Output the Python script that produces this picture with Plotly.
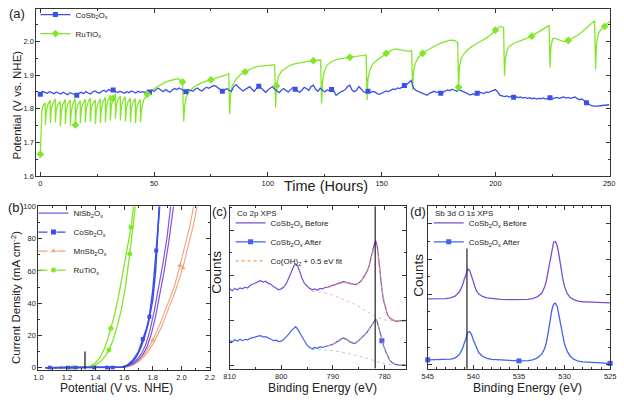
import numpy as np
import plotly.graph_objects as go

W, H = 624, 401
FONT = "Liberation Sans, Arial, sans-serif"

# ---------------- (a) long-term stability ----------------
time_co = list(range(0, 251))
volt_co = [
    1.843, 1.852, 1.849, 1.846, 1.851, 1.848, 1.845, 1.850, 1.847, 1.844,
    1.849, 1.846, 1.842, 1.848, 1.845, 1.841, 1.840, 1.846, 1.849, 1.845,
    1.851, 1.847, 1.844, 1.850, 1.853, 1.849, 1.846, 1.852, 1.855, 1.850,
    1.857, 1.854, 1.856, 1.851, 1.848, 1.852, 1.849, 1.846, 1.851, 1.848,
    1.853, 1.850, 1.847, 1.852, 1.849, 1.851, 1.848, 1.853, 1.850, 1.855,
    1.852, 1.858, 1.861, 1.855, 1.851, 1.857, 1.853, 1.849, 1.856, 1.860,
    1.857, 1.862, 1.858, 1.854, 1.851, 1.857, 1.855, 1.852, 1.858, 1.862,
    1.856, 1.853, 1.859, 1.864, 1.861, 1.866, 1.869, 1.868, 1.862, 1.857,
    1.852, 1.856, 1.860, 1.855, 1.852, 1.866, 1.872, 1.865, 1.858, 1.853,
    1.857, 1.862, 1.866, 1.858, 1.852, 1.860, 1.867, 1.862, 1.855, 1.849,
    1.856, 1.862, 1.866, 1.858, 1.852, 1.848, 1.855, 1.860, 1.854, 1.850,
    1.857, 1.863, 1.858, 1.853, 1.849, 1.856, 1.864, 1.860, 1.855, 1.866,
    1.870, 1.858, 1.852, 1.861, 1.856, 1.850, 1.856, 1.854, 1.857, 1.852,
    1.840, 1.846, 1.850, 1.853, 1.857, 1.866, 1.870, 1.856, 1.851, 1.855,
    1.866, 1.859, 1.851, 1.848, 1.852, 1.849, 1.851, 1.850, 1.845, 1.843,
    1.847, 1.850, 1.853, 1.851, 1.856, 1.859, 1.857, 1.862, 1.860, 1.865,
    1.869, 1.872, 1.878, 1.884, 1.862, 1.855, 1.852, 1.849, 1.846, 1.842,
    1.840, 1.846, 1.848, 1.852, 1.849, 1.850, 1.846, 1.849, 1.853, 1.856,
    1.854, 1.858, 1.855, 1.852, 1.857, 1.854, 1.849, 1.846, 1.843, 1.841,
    1.845, 1.842, 1.846, 1.849, 1.847, 1.845, 1.850, 1.848, 1.852, 1.855,
    1.857, 1.850, 1.840, 1.838, 1.836, 1.838, 1.835, 1.837, 1.834, 1.836,
    1.833, 1.835, 1.832, 1.834, 1.831, 1.833, 1.830, 1.832, 1.829, 1.831,
    1.830, 1.832, 1.829, 1.831, 1.833, 1.830, 1.832, 1.834, 1.831, 1.833,
    1.835, 1.832, 1.834, 1.831, 1.833, 1.835, 1.830, 1.827, 1.829, 1.824,
    1.818, 1.813, 1.810, 1.808, 1.807, 1.808, 1.809, 1.810, 1.811, 1.812,
    1.812,
]
time_ru = [
    0, 0.3, 0.7, 1.2, 2.15,
    2.2, 2.6, 3.3, 4.35, 4.4, 4.8, 5.5, 6.55, 6.6, 7.0, 7.7, 8.75,
    8.8, 9.2, 9.9, 10.95, 11.0, 11.4, 12.1, 13.15, 13.2, 13.6, 14.3, 15.35,
    15.4, 15.8, 16.5, 17.55, 17.6, 18.0, 18.7, 19.75, 19.8, 20.2, 20.9, 21.95,
    22.0, 22.4, 23.1, 24.15, 24.2, 24.6, 25.3, 26.35, 26.4, 26.8, 27.5, 28.55,
    28.6, 29.0, 29.7, 30.75, 30.8, 31.2, 31.9, 32.95, 33.0, 33.4, 34.1, 35.15,
    35.2, 35.6, 36.3, 37.35, 37.4, 37.8, 38.5, 39.55, 39.6, 40.0, 40.7, 41.75,
    41.8, 42.2, 42.9, 43.95,
    44.0, 44.5, 45.5, 47, 49, 51, 53, 55, 57, 59, 60.5, 62.5,
    63.0, 63.4, 64.0, 65, 67, 69, 71, 73, 75, 77, 79, 81, 82.8,
    83.2, 83.6, 84.3, 86, 88, 90, 92, 94, 96, 98, 100, 102, 103.0,
    103.4, 103.8, 104.6, 106, 108, 110, 112, 114, 116, 118, 120, 122, 123.2,
    123.6, 124.0, 124.8, 126, 128, 130, 132, 134, 136, 138, 140, 142, 143.2,
    143.6, 144.0, 144.8, 146, 148, 150, 152, 154, 156, 158, 160, 162, 163.2,
    163.6, 164.0, 164.8, 166, 168, 170, 172, 174, 176, 178, 180, 182, 183.4,
    183.8, 184.2, 185.0, 186, 188, 190, 192, 194, 196, 198, 200, 202, 203.6,
    204.0, 204.4, 205.2, 206, 208, 210, 212, 214, 216, 218, 220, 222, 223.6,
    224.0, 224.4, 225.2, 226, 228, 230, 232, 234, 236, 238, 240, 242, 243.6,
    244.0, 244.4, 245.2, 246, 248, 250.3,
]
volt_ru = [
    1.665, 1.770, 1.795, 1.808, 1.818,
    1.752, 1.792, 1.812, 1.825, 1.758, 1.798, 1.816, 1.830, 1.760, 1.797, 1.812, 1.822,
    1.748, 1.790, 1.813, 1.828, 1.755, 1.795, 1.814, 1.826, 1.750, 1.792, 1.815, 1.830,
    1.752, 1.793, 1.812, 1.824, 1.757, 1.796, 1.815, 1.828, 1.760, 1.799, 1.818, 1.832,
    1.762, 1.800, 1.815, 1.826, 1.755, 1.795, 1.816, 1.830, 1.758, 1.798, 1.820, 1.834,
    1.760, 1.802, 1.825, 1.840, 1.765, 1.808, 1.830, 1.845, 1.770, 1.810, 1.826, 1.838,
    1.765, 1.805, 1.824, 1.836, 1.762, 1.801, 1.820, 1.832, 1.760, 1.799, 1.818, 1.830,
    1.758, 1.798, 1.815, 1.828,
    1.760, 1.800, 1.828, 1.843, 1.856, 1.864, 1.872, 1.879, 1.884, 1.888, 1.890, 1.880,
    1.762, 1.805, 1.832, 1.848, 1.862, 1.871, 1.878, 1.882, 1.886, 1.889, 1.894, 1.899, 1.904,
    1.784, 1.840, 1.868, 1.888, 1.902, 1.910, 1.917, 1.923, 1.926, 1.928, 1.929, 1.930, 1.931,
    1.803, 1.868, 1.895, 1.912, 1.922, 1.930, 1.934, 1.937, 1.940, 1.941, 1.943, 1.944, 1.945,
    1.816, 1.880, 1.912, 1.930, 1.940, 1.946, 1.949, 1.951, 1.953, 1.955, 1.957, 1.959, 1.960,
    1.826, 1.890, 1.915, 1.932, 1.945, 1.955, 1.965, 1.973, 1.978, 1.976, 1.972, 1.971, 1.973,
    1.855, 1.910, 1.935, 1.952, 1.965, 1.974, 1.982, 1.989, 1.995, 2.000, 2.004, 2.003, 1.997,
    1.864, 1.925, 1.950, 1.962, 1.976, 1.987, 1.995, 2.002, 2.010, 2.020, 2.034, 2.045, 2.042,
    1.898, 1.950, 1.975, 1.985, 1.994, 2.000, 2.004, 2.010, 2.016, 2.024, 2.033, 2.042, 2.048,
    1.922, 1.985, 2.008, 2.010, 2.005, 2.000, 2.003, 2.010, 2.018, 2.028, 2.040, 2.055, 2.062,
    1.917, 1.990, 2.022, 2.033, 2.045, 2.060,
]
marker_hours_co = [0, 16, 32, 48, 64, 80, 96, 112, 128, 144, 160, 176, 192, 208, 224, 240]
marker_hours_ru = [0, 15.4, 32, 48, 62, 76, 91, 104, 120, 136, 152, 168, 184, 200, 216, 232, 248]

# ---------------- (b) polarisation curves ----------------
ni_v1 = [1.05, 1.52, 1.58, 1.62, 1.66, 1.69, 1.72, 1.75, 1.78, 1.81, 1.84, 1.87, 1.90, 1.925]
ni_j1 = [0, 0, 0.3, 1.2, 3.0, 5.0, 8.5, 14, 23, 35, 49, 64, 81, 100]
ni_v2 = [1.05, 1.53, 1.59, 1.63, 1.67, 1.70, 1.73, 1.76, 1.79, 1.82, 1.85, 1.88, 1.91, 1.945]
ni_j2 = [0, 0, 0.3, 1.1, 2.8, 4.8, 8, 13, 21, 32, 45, 60, 77, 100]
co_v1 = [1.05, 1.08, 1.21, 1.26, 1.39, 1.48, 1.52, 1.58, 1.62, 1.66, 1.70, 1.73, 1.755, 1.776, 1.80, 1.824, 1.838, 1.848]
co_j1 = [0, 0, 0, 0, 0, 0, 0, 0.3, 1.5, 4.5, 10, 17.8, 24, 31.5, 48, 72.7, 88, 100]
co_mk1 = [1, 2, 3, 4, 5, 6, 11, 13, 15]
co_v2 = [1.05, 1.56, 1.60, 1.64, 1.68, 1.71, 1.74, 1.77, 1.80, 1.82, 1.835, 1.845]
co_j2 = [0, 0, 0.4, 2, 6, 11, 18, 28, 42, 60, 80, 100]
mn_v1 = [1.05, 1.16, 1.55, 1.60, 1.65, 1.70, 1.75, 1.80, 1.85, 1.90, 1.95, 1.99, 2.03, 2.06, 2.085]
mn_j1 = [0, 0, 0, 0.3, 1.5, 4.5, 9.5, 17, 27, 38, 50, 63.4, 77, 88, 100]
mn_mk1 = [1, 7, 11]
mn_v2 = [1.05, 1.56, 1.61, 1.66, 1.71, 1.76, 1.81, 1.86, 1.91, 1.96, 2.01, 2.05, 2.08, 2.11]
mn_j2 = [0, 0, 0.3, 1.4, 4.2, 9, 16, 25, 36, 48, 61.8, 76, 87, 100]
mn_mk2 = [10]
ru_v1 = [1.05, 1.24, 1.32, 1.36, 1.40, 1.44, 1.47, 1.493, 1.52, 1.55, 1.58, 1.61, 1.639, 1.66, 1.678]
ru_j1 = [0, 0, 0, 0.4, 1.6, 4.2, 7.5, 10.9, 16.5, 25, 36, 51, 70.5, 87, 100]
ru_mk1 = [1, 7, 12]
ru_v2 = [1.05, 1.31, 1.35, 1.39, 1.43, 1.46, 1.485, 1.507, 1.53, 1.56, 1.59, 1.62, 1.648, 1.665]
ru_j2 = [0, 0, 0.5, 2.2, 6, 11.5, 17.5, 24.4, 32, 44, 58, 72, 87, 100]
ru_mk2 = [7, 12]
e_thermo = 1.326
e_thermo_j = [-1.2, 10]

# ---------------- (c) Co 2p XPS ----------------
co2p_e = [810, 809.5, 809, 808.5, 808, 807.5, 807, 806.5, 806, 805.5, 805, 804.5, 804, 803.5, 803,
          802.5, 802, 801.5, 801, 800.5, 800, 799.5, 799, 798.5, 798, 797.5, 797.2, 796.8, 796.4,
          796, 795.5, 795, 794.5, 794, 793.5, 793, 792.5, 792, 791.5, 791, 790.5, 790, 789.5, 789,
          788.5, 788, 787.5, 787, 786.5, 786, 785.5, 785, 784.5, 784, 783.5, 783, 782.5, 782,
          781.7, 781.4, 781.1, 780.8, 780.5, 780.2, 779.8, 779.4, 779, 778.5, 778, 777.5, 777,
          776.5, 776]
co2p_before = [1.70, 1.66, 1.71, 1.68, 1.72, 1.70, 1.74, 1.72, 1.78, 1.80, 1.83, 1.86, 1.88, 1.85, 1.87,
               1.82, 1.80, 1.75, 1.72, 1.68, 1.70, 1.74, 1.82, 1.96, 2.10, 2.22, 2.25, 2.20, 2.08,
               1.94, 1.82, 1.76, 1.71, 1.68, 1.70, 1.67, 1.71, 1.70, 1.73, 1.74, 1.76, 1.78, 1.80, 1.82,
               1.84, 1.86, 1.85, 1.83, 1.81, 1.80, 1.80, 1.83, 1.88, 1.96, 2.06, 2.20, 2.45, 2.68,
               2.77, 2.65, 2.35, 1.98, 1.68, 1.45, 1.26, 1.12, 1.05, 1.01, 0.99, 0.98, 1.00,
               0.99, 1.00]
co2p_after = [0.56, 0.52, 0.57, 0.54, 0.58, 0.55, 0.58, 0.57, 0.60, 0.62, 0.64, 0.65, 0.66, 0.63, 0.64,
              0.60, 0.58, 0.55, 0.56, 0.53, 0.54, 0.58, 0.63, 0.70, 0.78, 0.84, 0.86, 0.80, 0.72,
              0.63, 0.52, 0.45, 0.40, 0.37, 0.40, 0.38, 0.41, 0.40, 0.42, 0.43, 0.45, 0.47, 0.50, 0.54,
              0.58, 0.61, 0.59, 0.55, 0.51, 0.49, 0.50, 0.55, 0.60, 0.66, 0.72, 0.80, 0.90, 0.99,
              1.03, 0.97, 0.83, 0.68, 0.55, 0.45, 0.32, 0.21, 0.12, 0.06, 0.03, 0.02, 0.00,
              0.01, 0.02]
co2p_after_mk = [62]
fit_e = [791, 790, 789, 788, 787, 786, 785, 784, 783.5, 783, 782.5, 782, 781.7, 781.4, 781.1,
         780.8, 780.5, 780.2, 779.8, 779.4, 779, 778, 777, 776]
fit_before = [1.73, 1.77, 1.81, 1.84, 1.83, 1.80, 1.82, 1.95, 2.05, 2.18, 2.42, 2.62, 2.72, 2.62, 2.36,
              2.00, 1.70, 1.47, 1.27, 1.13, 1.05, 0.99, 0.99, 0.99]
fit_after = [0.43, 0.47, 0.53, 0.59, 0.56, 0.50, 0.54, 0.65, 0.72, 0.80, 0.89, 0.97, 1.01, 0.96, 0.83,
             0.68, 0.55, 0.45, 0.32, 0.21, 0.12, 0.03, 0.01, 0.01]
bg_e = [794, 792, 790, 788, 786, 784, 782, 780, 778, 776]
bg_before = [1.65, 1.62, 1.56, 1.47, 1.37, 1.24, 1.10, 1.01, 0.99, 0.99]
bg_after = [0.36, 0.35, 0.33, 0.29, 0.24, 0.18, 0.11, 0.04, 0.01, 0.01]
co2p_line = 781.8

# ---------------- (d) Sb 3d / O 1s XPS ----------------
sb_e = [545, 544, 543, 542.5, 542, 541.5, 541.2, 541, 540.8, 540.6, 540.4, 540.2, 540, 539.7, 539.4,
        539, 538.5, 538, 537, 536, 535, 534, 533.5, 533, 532.5, 532.2, 532, 531.8, 531.6, 531.4,
        531.2, 531.0, 530.8, 530.6, 530.4, 530.2, 530, 529.7, 529.4, 529, 528.5, 528, 527, 526, 525]
sb_before = [1.87, 1.87, 1.88, 1.90, 1.95, 2.08, 2.25, 2.42, 2.60, 2.72, 2.68, 2.52, 2.32, 2.12, 2.01,
             1.94, 1.90, 1.88, 1.86, 1.85, 1.85, 1.86, 1.88, 1.93, 2.03, 2.20, 2.38, 2.65, 3.00, 3.30,
             3.48, 3.50, 3.38, 3.10, 2.75, 2.45, 2.22, 2.02, 1.92, 1.85, 1.81, 1.79, 1.78, 1.77, 1.76]
sb_after = [0.14, 0.14, 0.15, 0.16, 0.19, 0.30, 0.45, 0.62, 0.80, 0.92, 0.94, 0.86, 0.70, 0.50, 0.34,
            0.24, 0.18, 0.15, 0.13, 0.12, 0.11, 0.12, 0.14, 0.19, 0.30, 0.45, 0.62, 0.90, 1.25, 1.55,
            1.72, 1.75, 1.65, 1.40, 1.08, 0.80, 0.58, 0.38, 0.25, 0.16, 0.10, 0.08, 0.06, 0.05, 0.04]
sb_after_mk = [0, 20, 44]
sb_line = 540.7
sb_line_y = [3.3, -0.2]

# ---------------- colours ----------------
C_BLUE = "#3b50e6"
C_GREEN = "#84e62c"
C_PURPLE = "#7d55dc"
C_ORANGE = "#f0a27c"
C_BEFORE = "#7a4fd8"
C_AFTER = "#4163ee"
C_FIT = "#f59a5c"


def px(x):
    return x / W


def py(y):
    return 1 - y / H


fig = go.Figure()


def add(tr):
    fig.add_trace(tr)


# ---- (a)
add(go.Scatter(x=time_ru, y=volt_ru, mode="lines", line=dict(color=C_GREEN, width=1.3),
               xaxis="x", yaxis="y", showlegend=False, hoverinfo="skip"))
add(go.Scatter(x=time_co, y=volt_co, mode="lines", line=dict(color=C_BLUE, width=1.3),
               xaxis="x", yaxis="y", showlegend=False, hoverinfo="skip"))
idx_co = [time_co.index(h) for h in marker_hours_co]
add(go.Scatter(x=[time_co[i] for i in idx_co], y=[volt_co[i] for i in idx_co], mode="markers",
               marker=dict(symbol="square", size=5, color=C_BLUE), xaxis="x", yaxis="y",
               showlegend=False, hoverinfo="skip"))
tr_arr = np.array(time_ru)
idx_ru = [int(np.argmin(np.abs(tr_arr - h))) for h in marker_hours_ru]
add(go.Scatter(x=[time_ru[i] for i in idx_ru], y=[volt_ru[i] for i in idx_ru], mode="markers",
               marker=dict(symbol="diamond", size=6, color=C_GREEN), xaxis="x", yaxis="y",
               showlegend=False, hoverinfo="skip"))
add(go.Scatter(x=[None], y=[None], mode="lines+markers", name="CoSb<sub>2</sub>O<sub>x</sub>",
               line=dict(color=C_BLUE, width=1.3), marker=dict(symbol="square", size=5, color=C_BLUE),
               xaxis="x", yaxis="y", legend="legend"))
add(go.Scatter(x=[None], y=[None], mode="lines+markers", name="RuTiO<sub>x</sub>",
               line=dict(color=C_GREEN, width=1.3), marker=dict(symbol="diamond", size=6, color=C_GREEN),
               xaxis="x", yaxis="y", legend="legend"))


# ---- (b)
def curve_b(v, j, color, width, mk=None, symbol=None, msize=5):
    add(go.Scatter(x=v, y=j, mode="lines", line=dict(color=color, width=width),
                   xaxis="x2", yaxis="y2", showlegend=False, hoverinfo="skip"))
    if mk:
        add(go.Scatter(x=[v[i] for i in mk], y=[j[i] for i in mk], mode="markers",
                       marker=dict(symbol=symbol, size=msize, color=color),
                       xaxis="x2", yaxis="y2", showlegend=False, hoverinfo="skip"))


curve_b(mn_v1, mn_j1, C_ORANGE, 1.1, mn_mk1, "triangle-up", 5)
curve_b(mn_v2, mn_j2, C_ORANGE, 1.1, mn_mk2, "triangle-up", 5)
curve_b(ni_v1, ni_j1, C_PURPLE, 1.2)
curve_b(ni_v2, ni_j2, C_PURPLE, 1.2)
curve_b(ru_v1, ru_j1, C_GREEN, 1.3, ru_mk1, "circle", 5)
curve_b(ru_v2, ru_j2, C_GREEN, 1.3, ru_mk2, "circle", 5)
curve_b(co_v2, co_j2, C_BLUE, 1.5)
curve_b(co_v1, co_j1, C_BLUE, 1.5, co_mk1, "square", 4)
add(go.Scatter(x=[e_thermo, e_thermo], y=e_thermo_j, mode="lines", line=dict(color="#111", width=1.2),
               xaxis="x2", yaxis="y2", showlegend=False, hoverinfo="skip"))
for nm, col, sym, dash in [("NiSb<sub>2</sub>O<sub>x</sub>", C_PURPLE, None, "solid"),
                           ("CoSb<sub>2</sub>O<sub>x</sub>", C_BLUE, "square", "dash"),
                           ("MnSb<sub>2</sub>O<sub>x</sub>", C_ORANGE, "triangle-up", "dash"),
                           ("RuTiO<sub>x</sub>", C_GREEN, "circle", "dash")]:
    add(go.Scatter(x=[None], y=[None], mode="lines+markers" if sym else "lines", name=nm,
                   line=dict(color=col, width=1.3, dash=dash),
                   marker=dict(symbol=sym or "circle", size=5, color=col),
                   xaxis="x2", yaxis="y2", legend="legend2"))

# ---- (c)
add(go.Scatter(x=bg_e, y=bg_before, mode="lines", line=dict(color="#f2b3c4", width=1, dash="dot"),
               xaxis="x3", yaxis="y3", showlegend=False, hoverinfo="skip"))
add(go.Scatter(x=bg_e, y=bg_after, mode="lines", line=dict(color="#a9cdf2", width=1, dash="dot"),
               xaxis="x3", yaxis="y3", showlegend=False, hoverinfo="skip"))
add(go.Scatter(x=co2p_e, y=co2p_before, mode="lines", line=dict(color=C_BEFORE, width=1.2),
               xaxis="x3", yaxis="y3", name="CoSb<sub>2</sub>O<sub>x</sub> Before", legend="legend3"))
add(go.Scatter(x=co2p_e, y=co2p_after, mode="lines", line=dict(color=C_AFTER, width=1.2),
               xaxis="x3", yaxis="y3", showlegend=False, hoverinfo="skip"))
add(go.Scatter(x=[co2p_e[i] for i in co2p_after_mk], y=[co2p_after[i] for i in co2p_after_mk],
               mode="markers", marker=dict(symbol="square", size=5, color=C_AFTER),
               xaxis="x3", yaxis="y3", showlegend=False, hoverinfo="skip"))
add(go.Scatter(x=[None], y=[None], mode="lines+markers", name="CoSb<sub>2</sub>O<sub>x</sub> After",
               line=dict(color=C_AFTER, width=1.2), marker=dict(symbol="square", size=5, color=C_AFTER),
               xaxis="x3", yaxis="y3", legend="legend3"))
add(go.Scatter(x=fit_e, y=fit_before, mode="lines", line=dict(color=C_FIT, width=1.2, dash="dot"),
               xaxis="x3", yaxis="y3", name="Co(OH)<sub>2</sub> + 0.5 eV fit", legend="legend3"))
add(go.Scatter(x=fit_e, y=fit_after, mode="lines", line=dict(color=C_FIT, width=1.2, dash="dot"),
               xaxis="x3", yaxis="y3", showlegend=False, hoverinfo="skip"))
add(go.Scatter(x=[co2p_line, co2p_line], y=[-0.07, 3.53], mode="lines", line=dict(color="#222", width=1.2),
               xaxis="x3", yaxis="y3", showlegend=False, hoverinfo="skip"))

# ---- (d)
add(go.Scatter(x=sb_e, y=sb_before, mode="lines", line=dict(color=C_BEFORE, width=1.3),
               xaxis="x4", yaxis="y4", name="CoSb<sub>2</sub>O<sub>x</sub> Before", legend="legend4"))
add(go.Scatter(x=sb_e, y=sb_after, mode="lines", line=dict(color=C_AFTER, width=1.3),
               xaxis="x4", yaxis="y4", showlegend=False, hoverinfo="skip"))
add(go.Scatter(x=[sb_e[i] for i in sb_after_mk], y=[sb_after[i] for i in sb_after_mk], mode="markers",
               marker=dict(symbol="square", size=5, color=C_AFTER),
               xaxis="x4", yaxis="y4", showlegend=False, hoverinfo="skip", cliponaxis=False))
add(go.Scatter(x=[None], y=[None], mode="lines+markers", name="CoSb<sub>2</sub>O<sub>x</sub> After",
               line=dict(color=C_AFTER, width=1.3), marker=dict(symbol="square", size=5, color=C_AFTER),
               xaxis="x4", yaxis="y4", legend="legend4"))
add(go.Scatter(x=[sb_line, sb_line], y=sb_line_y, mode="lines", line=dict(color="#222", width=1.2),
               xaxis="x4", yaxis="y4", showlegend=False, hoverinfo="skip"))


def axis(domain, rng, dtick, minor_dtick, anchor, labels=True, tick0=None, fmt=None):
    d = dict(domain=domain, range=rng, dtick=dtick, anchor=anchor,
             showline=True, linecolor="#333", linewidth=1,
             mirror="allticks", ticks="inside", ticklen=4, tickcolor="#333", tickwidth=1,
             showgrid=False, zeroline=False, showticklabels=labels,
             tickfont=dict(family=FONT, size=7.5, color="#222"),
             minor=dict(ticks="inside", ticklen=2, tickcolor="#333", dtick=minor_dtick, showgrid=False))
    if tick0 is not None:
        d["tick0"] = tick0
    if fmt:
        d["tickformat"] = fmt
    return d


leg_common = dict(bgcolor="rgba(0,0,0,0)", font=dict(family=FONT, size=8, color="#222"),
                  xanchor="left", yanchor="top", tracegroupgap=0, itemwidth=30)

fig.update_layout(
    width=W, height=H, margin=dict(l=0, r=0, t=0, b=0),
    paper_bgcolor="white", plot_bgcolor="white",
    font=dict(family=FONT, color="#222"),
    xaxis=axis([px(31), px(616)], [-1.72, 250.43], 50, 25, "y", tick0=0),
    yaxis=axis([py(176), py(5)], [1.6, 2.097], 0.1, 0.05, "x", tick0=1.6, fmt=".1f"),
    xaxis2=axis([px(33), px(208)], [1.0, 2.2], 0.2, 0.1, "y2", tick0=1.0, fmt=".1f"),
    yaxis2=axis([py(374), py(207)], [-1.2, 100], 20, 10, "x2", tick0=0),
    xaxis3=axis([px(228), px(408)], [810, 775.8], 10, 5, "y3", tick0=780),
    yaxis3=axis([py(373), py(207)], [-0.07, 3.53], 1, 0.5, "x3", labels=False, tick0=0),
    xaxis4=axis([px(430), px(616)], [545, 525], 5, 1, "y4", tick0=525),
    yaxis4=axis([py(373), py(207)], [-0.11, 4.5], 1, 0.5, "x4", labels=False, tick0=0),
    legend=dict(x=px(30), y=py(-4), **leg_common),
    legend2=dict(x=px(28), y=py(199), **leg_common),
    legend3=dict(x=px(229), y=py(209), **leg_common),
    legend4=dict(x=px(431), y=py(209), **leg_common),
)

ann = [
    dict(text="(a)", x=px(2), y=py(10), xanchor="left", yanchor="middle", size=13),
    dict(text="(b)", x=px(1), y=py(208), xanchor="left", yanchor="middle", size=13),
    dict(text="(c)", x=px(209), y=py(212), xanchor="left", yanchor="middle", size=13),
    dict(text="(d)", x=px(411), y=py(212), xanchor="left", yanchor="middle", size=13),
    dict(text="Co 2p XPS", x=px(235), y=py(214), xanchor="left", yanchor="middle", size=8),
    dict(text="Sb 3d O 1s XPS", x=px(436), y=py(214), xanchor="left", yanchor="middle", size=8),
    dict(text="Time (Hours)", x=px(326), y=py(186), xanchor="center", yanchor="middle", size=14.5),
    dict(text="Potential (V vs. NHE)", x=px(11), y=py(103), xanchor="center", yanchor="middle",
         size=11.5, angle=-90),
    dict(text="Current Density (mA cm<sup>-2</sup>)", x=px(10), y=py(300), xanchor="center",
         yanchor="middle", size=11.5, angle=-90),
    dict(text="Potential (V vs. NHE)", x=px(113), y=0, xanchor="center", yanchor="bottom", size=12),
    dict(text="Counts", x=px(215), y=py(274), xanchor="center", yanchor="middle", size=13.5, angle=-90),
    dict(text="Binding Energy (eV)", x=px(323), y=0, xanchor="center", yanchor="bottom", size=12.2),
    dict(text="Counts", x=px(421), y=py(277), xanchor="center", yanchor="middle", size=13.5, angle=-90),
    dict(text="Binding Energy (eV)", x=px(532), y=0, xanchor="center", yanchor="bottom", size=12.2),
]
for a in ann:
    fig.add_annotation(text=a["text"], x=a["x"], y=a["y"], xref="paper", yref="paper",
                       xanchor=a["xanchor"], yanchor=a["yanchor"], showarrow=False,
                       textangle=a.get("angle", 0), borderpad=0,
                       font=dict(family=FONT, size=a["size"], color="#222"))

fig.write_html("out.html", config={"displayModeBar": False},
               post_script="document.body.style.margin='0px';")
